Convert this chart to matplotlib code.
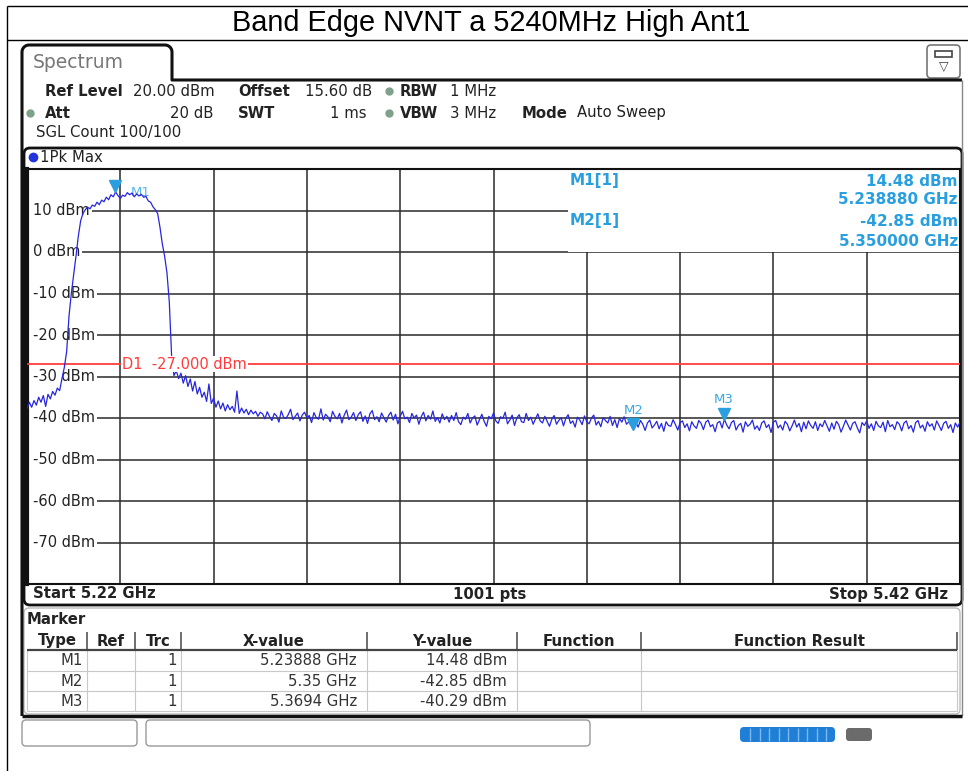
import numpy as np
import matplotlib
matplotlib.use("Agg")
import matplotlib.pyplot as plt
from matplotlib.patches import FancyBboxPatch, Rectangle
from matplotlib.transforms import ScaledTranslation, blended_transform_factory

# ---------------- data ----------------
title = "Band Edge NVNT a 5240MHz High Ant1"
start_ghz = 5.22
stop_ghz = 5.42
step_ghz = 0.0005

level_dbm = [
    # 5.2200 .. 5.2700 GHz (in-band and roll-off)
    -37.7, -36.2, -37.4, -35.8, -36.9, -35.0, -36.2, -34.6, -37.2, -34.3,
    -35.4, -33.6, -34.5, -32.8, -33.4, -30.5, -27.8, -24.0, -15.5, -10.0,
    -5.5, -1.0, 3.8, 7.5, 9.3, 10.2, 10.8, 10.4, 11.3, 11.0,
    12.0, 11.4, 12.5, 12.1, 13.2, 12.6, 13.8, 13.3, 14.48, 13.6,
    12.9, 13.7, 13.4, 14.3, 13.8, 14.2, 13.3, 14.0, 13.5, 13.9,
    13.2, 13.4, 12.3, 12.0, 10.9, 10.2, 9.3, 6.0, 2.0, -1.0,
    -5.0, -12.0, -25.0, -29.8, -28.6, -30.5, -29.2, -31.6, -29.8, -32.4,
    -30.6, -33.5, -31.2, -34.2, -32.6, -35.0, -33.8, -36.0, -31.8, -36.5,
    -35.2, -37.4, -35.9, -37.8, -36.4, -38.3, -36.8, -38.0, -37.2, -38.6,
    -33.5, -38.9, -37.6, -38.8, -37.9, -39.2, -38.1, -39.0, -38.4, -39.6,
    -38.6,
    # 5.2705 .. 5.3200 GHz
    -39.0, -40.2, -38.5, -39.7, -40.6, -38.9, -39.5, -41.0, -38.3, -39.8,
    -40.1, -39.2, -37.9, -40.4, -39.6, -38.8, -40.7, -39.3, -38.6, -40.0,
    -39.4, -41.1, -38.7, -39.9, -40.3, -37.8, -40.5, -39.1, -39.7, -40.9,
    -38.4, -39.6, -40.2, -38.9, -41.2, -39.3, -38.1, -40.4, -39.8, -38.7,
    -40.6, -39.2, -38.5, -40.8, -39.5, -41.3, -39.0, -38.2, -40.4, -39.7,
    -40.9, -38.8, -39.9, -41.0, -39.4, -38.6, -40.5, -39.1, -41.4, -39.6,
    -38.4, -40.2, -39.8, -41.1, -38.9, -40.0, -39.3, -41.5, -39.7, -38.6,
    -40.7, -39.4, -40.3, -38.3, -40.8, -39.9, -41.2, -39.0, -40.4, -39.6,
    -41.0, -39.4, -40.6, -38.7, -40.9, -41.6, -39.8, -40.3, -38.9, -41.2,
    -40.0, -39.5, -41.7, -40.4, -39.1, -40.8, -42.0, -39.6, -40.2, -38.8,
    # 5.3205 .. 5.3495 GHz
    -40.7, -41.3, -39.7, -40.1, -38.6, -41.4, -40.5, -39.3, -41.8, -40.0,
    -39.2, -40.9, -41.1, -38.9, -40.6, -39.8, -41.5, -40.2, -39.0, -40.7,
    -41.2, -39.6, -40.8, -42.0, -40.3, -39.4, -41.5, -40.6, -39.9, -41.9,
    -40.1, -39.2, -41.3, -40.7, -42.2, -39.8, -40.5, -41.6, -39.5, -40.9,
    -41.4, -40.0, -39.3, -41.7, -40.8, -42.1, -39.9, -40.6, -41.2, -39.6,
    -41.8, -40.4, -42.3, -40.1, -41.0, -39.7, -41.5, -40.9, -41.9,
    # 5.3500 GHz (M2)
    -42.85,
    # 5.3505 .. 5.4200 GHz
    -41.0, -42.2, -40.6, -41.5, -43.0, -41.2, -40.5, -42.4, -41.7, -40.8,
    -42.6, -41.3, -43.2, -40.9, -41.8, -42.0, -40.4, -41.6, -42.9, -41.1,
    -40.7, -42.3, -41.4, -43.1, -40.9, -41.9, -42.5, -40.6, -41.3, -42.8,
    -41.0, -40.5, -42.1, -41.6, -43.3, -41.2, -40.8, -42.4, -40.29, -41.7,
    -42.6, -41.1, -40.6, -42.9, -41.8, -41.3, -43.4, -40.9, -42.0, -41.5,
    -40.5, -42.7, -41.9, -43.0, -41.2, -40.7, -42.3, -41.6, -43.5, -41.0,
    -40.6, -42.4, -41.7, -42.9, -40.8, -41.5, -43.1, -41.9, -40.5, -42.2,
    -41.3, -43.3, -41.0, -42.6, -40.7, -41.8, -42.5, -40.9, -43.0, -41.4,
    -42.1, -40.6, -41.9, -43.2, -41.2, -42.7, -40.8, -41.6, -43.4, -42.0,
    -40.5, -41.7, -42.9, -41.3, -40.9, -42.4, -43.6, -41.1, -41.8, -40.7,
    -42.5, -41.4, -43.0, -40.8, -41.9, -42.3, -41.0, -43.3, -40.6, -42.1,
    -41.6, -42.8, -40.9, -41.5, -43.1, -41.2, -40.7, -42.6, -41.8, -43.4,
    -41.1, -40.6, -42.4, -41.7, -43.2, -40.9, -42.0, -41.4, -42.9, -40.7,
    -41.8, -43.0, -41.3, -40.8, -42.5, -41.6, -43.5, -41.2, -42.2, -41.0,
]
freq_ghz = start_ghz + step_ghz * np.arange(len(level_dbm))

y_grid_dbm = [10, 0, -10, -20, -30, -40, -50, -60, -70]
y_grid_labels = ["10 dBm", "0 dBm", "-10 dBm", "-20 dBm", "-30 dBm",
                 "-40 dBm", "-50 dBm", "-60 dBm", "-70 dBm"]
x_grid_ghz = [5.24, 5.26, 5.28, 5.30, 5.32, 5.34, 5.36, 5.38, 5.40]
y_min, y_max = -80, 20

d1_dbm = -27.0
d1_label = "D1  -27.000 dBm"

marker_names = ["M1", "M2", "M3"]
marker_freq_ghz = [5.23888, 5.35, 5.3694]
marker_level_dbm = [14.48, -42.85, -40.29]

info_lines = [("M1[1]", "14.48 dBm"), ("", "5.238880 GHz"),
              ("M2[1]", "-42.85 dBm"), ("", "5.350000 GHz")]

table_header = ["Type", "Ref", "Trc", "X-value", "Y-value", "Function", "Function Result"]
table_type = ["M1", "M2", "M3"]
table_trc = ["1", "1", "1"]
table_x = ["5.23888 GHz", "5.35 GHz", "5.3694 GHz"]
table_y = ["14.48 dBm", "-42.85 dBm", "-40.29 dBm"]

# ---------------- styles ----------------
W, H = 968, 771
TXT = "#222222"
BLUE_TR = "#2626e0"
MK = "#2a9fe0"
RED = "#ff3b3b"
FS = 10.7

fig = plt.figure(figsize=(W / 100, H / 100), dpi=100)
fig.patch.set_facecolor("white")

bg = fig.add_axes([0, 0, 1, 1])
bg.set_xlim(0, W)
bg.set_ylim(H, 0)
bg.axis("off")


def T(x, y, s, **kw):
    d = dict(va="center", fontsize=FS, color=TXT, family="DejaVu Sans")
    d.update(kw)
    return bg.text(x, y, s, **d)


def L(xs, ys, **kw):
    d = dict(color="black", lw=1, solid_capstyle="butt")
    d.update(kw)
    bg.plot(xs, ys, **d)


# title table
L([7, W], [6, 6], lw=1)
L([7, W], [40, 40], lw=1)
L([7, 7], [6, H], lw=1)
bg.text(491, 23, title, ha="center", va="center", fontsize=20.8,
        family="Liberation Sans", color="black")

# spectrum tab and window border
r = 7
ang = np.linspace(np.pi, np.pi / 2, 8)
arc1x = 22 + r + r * np.cos(ang)
arc1y = 45 + r - r * np.sin(ang)
ang2 = np.linspace(np.pi / 2, 0, 8)
arc2x = 172 - r + r * np.cos(ang2)
arc2y = 45 + r - r * np.sin(ang2)
tabx = np.concatenate([[22], arc1x, arc2x, [172, 172, 962]])
taby = np.concatenate([[716], arc1y, arc2y, [80, 80, 80]])
L(tabx, taby, lw=2.2, color="#111111")
T(33, 63, "Spectrum", fontsize=13.5, color="#777777")
L([962, 962], [80, 716], lw=1.0, color="#888888")
L([22, 962], [716, 716], lw=2.5, color="#111111")

# icon top right
bg.add_patch(FancyBboxPatch((927, 45), 33, 33, boxstyle="round,pad=0,rounding_size=4",
                            fc="white", ec="#777777", lw=1.2))
bg.add_patch(Rectangle((935, 51), 17, 6, fc="white", ec="#444444", lw=1.2))
T(943.5, 67, "\u25BD", ha="center", fontsize=9, color="#444444")

# header rows
dot = dict(marker="o", ms=5, color="#7fa08a", ls="none")
T(45, 91, "Ref Level", fontweight="bold")
T(133, 91, "20.00 dBm")
T(238, 91, "Offset", fontweight="bold")
T(305, 91, "15.60 dB")
bg.plot([389], [91], **dot)
T(400, 91, "RBW", fontweight="bold")
T(450, 91, "1 MHz")

bg.plot([30], [113], **dot)
T(45, 113, "Att", fontweight="bold")
T(213, 113, "20 dB", ha="right")
T(238, 113, "SWT", fontweight="bold")
T(367, 113, "1 ms", ha="right")
bg.plot([389], [113], **dot)
T(400, 113, "VBW", fontweight="bold")
T(450, 113, "3 MHz")
T(522, 113, "Mode", fontweight="bold")
T(577, 113, "Auto Sweep")
T(36, 133, "SGL Count 100/100")

# diagram frame
bg.add_patch(FancyBboxPatch((24, 148), 938, 457, boxstyle="round,pad=0,rounding_size=6",
                            fc="white", ec="#111111", lw=2))
bg.plot([33], [157], marker="o", ms=6, color="#2233dd", ls="none")
T(40, 157, "1Pk Max")
T(33, 594, "Start 5.22 GHz", fontweight="bold")
T(490, 594, "1001 pts", fontweight="bold", ha="center")
T(948, 594, "Stop 5.42 GHz", fontweight="bold", ha="right")

# marker table panel
bg.add_patch(FancyBboxPatch((24, 608), 936, 106, boxstyle="round,pad=0,rounding_size=5",
                            fc="white", ec="#bbbbbb", lw=1))
T(27, 619, "Marker", fontweight="bold")
col_x = [27, 87, 135, 181, 367, 517, 641, 957]
hdr_top, hdr_bot = 632, 650
row_b = [650, 671, 691, 711]
for cx in col_x[1:-1]:
    L([cx, cx], [hdr_top, hdr_bot], lw=1.2, color="#555555")
    L([cx, cx], [hdr_bot, row_b[-1]], lw=0.8, color="#c8c8c8")
L([957, 957], [hdr_top, hdr_bot], lw=1.2, color="#555555")
L([957, 957], [hdr_bot, row_b[-1]], lw=0.8, color="#c8c8c8")
L([27, 27], [hdr_bot, row_b[-1]], lw=0.8, color="#c8c8c8")
L([27, 957], [hdr_bot, hdr_bot], lw=1.6, color="#444444")
for yb in row_b[1:]:
    L([27, 957], [yb, yb], lw=0.8, color="#c8c8c8")
for i, h in enumerate(table_header):
    T((col_x[i] + col_x[i + 1]) / 2, 641, h, ha="center", fontweight="bold")
for k in range(3):
    yc = (row_b[k] + row_b[k + 1]) / 2
    T(83, yc, table_type[k], ha="right", color="#333333")
    T(177, yc, table_trc[k], ha="right", color="#333333")
    T(357, yc, table_x[k], ha="right", color="#333333")
    T(507, yc, table_y[k], ha="right", color="#333333")

# status bar
bg.add_patch(FancyBboxPatch((22, 720), 115, 26, boxstyle="round,pad=0,rounding_size=4",
                            fc="white", ec="#999999", lw=1))
bg.add_patch(FancyBboxPatch((146, 720), 444, 26, boxstyle="round,pad=0,rounding_size=4",
                            fc="white", ec="#999999", lw=1))
bg.add_patch(FancyBboxPatch((740, 727), 95, 15, boxstyle="round,pad=0,rounding_size=4",
                            fc="#1f7fd6", ec="none"))
for sx in np.arange(750, 835, 9.5):
    L([sx, sx], [728, 741], lw=1, color="#7fb8ea")
bg.add_patch(FancyBboxPatch((846, 728), 26, 13, boxstyle="round,pad=0,rounding_size=3",
                            fc="#6b6b6b", ec="none"))

# ---------------- spectrum axes ----------------
ax = fig.add_axes([27 / W, 1 - 584 / H, 933 / W, 415 / H])
ax.set_xlim(start_ghz, stop_ghz)
ax.set_ylim(y_min, y_max)
ax.set_xticks([])
ax.set_yticks([])
for s in ["top", "right", "bottom"]:
    ax.spines[s].set_linewidth(1.5)
    ax.spines[s].set_color("#111111")
ax.spines["left"].set_linewidth(3)
ax.spines["left"].set_color("#111111")

box_left = 0.58
grid_kw = dict(color="#2a2a2a", lw=1.1, zorder=1)
for f in x_grid_ghz:
    top = 0.8 if f > 5.335 else 1.0
    ax.axvline(f, ymin=0, ymax=top, **grid_kw)
for v in y_grid_dbm:
    ax.axhline(v, xmin=0, xmax=box_left if v > 0 else 1.0, **grid_kw)

ytr = blended_transform_factory(ax.transAxes, ax.transData)
for v, lab in zip(y_grid_dbm, y_grid_labels):
    ax.add_patch(Rectangle((0.0, v - 1.2), 0.008, 2.4, transform=ytr,
                           fc="white", ec="none", zorder=1.8))
    ax.text(0.0064, v, lab, transform=ytr, va="center", ha="left", fontsize=10.5,
            color=TXT, zorder=2,
            bbox=dict(fc="white", ec="none", pad=1.5))

ax.axhline(d1_dbm, color=RED, lw=1.3, zorder=3)

# marker labels drawn beneath trace
off_up = ScaledTranslation(0, 14 / 72, fig.dpi_scale_trans)
off_right = ScaledTranslation(11 / 72, -0.5 / 72, fig.dpi_scale_trans)
ax.text(marker_freq_ghz[0], marker_level_dbm[0], marker_names[0],
        transform=ax.transData + off_right, ha="left", va="center",
        fontsize=9.5, color="#58b8ea", zorder=3.5)
for n, f, v in zip(marker_names[1:], marker_freq_ghz[1:], marker_level_dbm[1:]):
    ax.text(f, v, n, transform=ax.transData + off_up, ha="center", va="center",
            fontsize=9.5, color="#3aa8e6", zorder=3.5)

ax.plot(freq_ghz, level_dbm, color=BLUE_TR, lw=0.9, zorder=4)

tri = ax.transData + ScaledTranslation(0, 4 / 72, fig.dpi_scale_trans)
ax.plot(marker_freq_ghz, marker_level_dbm, marker="v", ms=8, ls="none",
        color=MK, transform=tri, zorder=5)

ax.text(5.2404, d1_dbm, d1_label, va="center", ha="left", fontsize=10.5,
        color=RED, zorder=6, bbox=dict(fc="white", ec="none", pad=0.5))

# marker info block (covers upper right grid)
ax.add_patch(Rectangle((box_left, 0.8), 1 - box_left, 0.2, transform=ax.transAxes,
                       fc="white", ec="none", zorder=1.5))

bg.set_zorder(0)
ax.set_zorder(1)
ov = fig.add_axes([0, 0, 1, 1])
ov.set_xlim(0, W)
ov.set_ylim(H, 0)
ov.axis("off")
ov.set_zorder(2)
ys_info = [181, 200, 221, 241]
for (lab, val), yy in zip(info_lines, ys_info):
    if lab:
        ov.text(570, yy, lab, va="center", fontsize=11, color=MK,
                fontweight="bold", family="DejaVu Sans")
    ov.text(958, yy, val, va="center", ha="right", fontsize=11, color=MK,
            fontweight="bold", family="DejaVu Sans")

fig.savefig("out.png", dpi=100)
